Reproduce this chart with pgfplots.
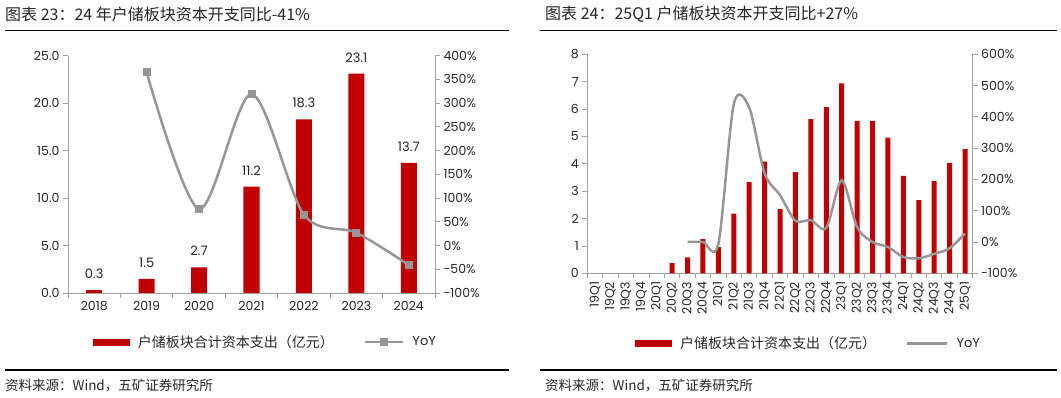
\documentclass[border=0pt]{standalone}
\usepackage{pgfplots}
\pgfplotsset{compat=1.18}
\usepackage{fontspec}
\setmainfont{Poppins}
\newfontfamily\cjk{Noto Sans CJK SC}
\definecolor{barred}{RGB}{192,0,0}
\definecolor{linegray}{RGB}{150,150,150}
\definecolor{axgray}{RGB}{160,160,160}
\definecolor{txt}{RGB}{38,38,38}
\pgfplotsset{
  base/.style={scale only axis, clip=false,
    axis line style={axgray, line width=0.8bp},
    tick style={axgray, line width=0.8bp},
    major tick length=5bp, tick align=outside,
    ticklabel style={font=\fontsize{12.5bp}{14bp}\selectfont, text=txt},
    /pgf/number format/assume math mode=true},
}
\begin{document}
\begin{tikzpicture}
\path[use as bounding box] (0bp,0bp) rectangle (1061bp,398bp);
% ---------- titles and rules ----------
\node[anchor=west, inner sep=0, text=txt, font=\cjk\fontsize{16bp}{18bp}\selectfont] at (5bp,384bp) {图表 23：24 年户储板块资本开支同比-41\%};
\draw[line width=1.5bp] (5bp,367.5bp) -- (509bp,367.5bp);
\node[anchor=west, inner sep=0, text=txt, font=\cjk\fontsize{16bp}{18bp}\selectfont] at (545bp,384bp) {图表 24：25Q1 户储板块资本开支同比+27\%};
\draw[line width=1.5bp] (540bp,367.5bp) -- (1057bp,367.5bp);
\draw[line width=1.2bp] (5bp,28bp) -- (509bp,28bp);
\draw[line width=1.2bp] (540bp,28bp) -- (1057bp,28bp);
\node[anchor=west, inner sep=0, text=txt, font=\cjk\fontsize{13.5bp}{15bp}\selectfont] at (5bp,12bp) {资料来源：Wind，五矿证券研究所};
\node[anchor=west, inner sep=0, text=txt, font=\cjk\fontsize{13.5bp}{15bp}\selectfont] at (545bp,12bp) {资料来源：Wind，五矿证券研究所};

% ---------- left chart ----------
\begin{axis}[base, at={(68bp,105bp)}, anchor=south west, width=367bp, height=237.3bp,
  xmin=-0.5, xmax=6.5, ymin=0, ymax=25,
  axis y line*=left, axis x line*=bottom,
  xtick={-0.5,0.5,...,6.5}, x tick label as interval,
  xticklabels={2018,2019,2020,2021,2022,2023,2024},
  ytick={0,5,...,25},
  yticklabel style={/pgf/number format/.cd, fixed, fixed zerofill, precision=1},
  legend columns=2,
  legend style={draw=none, fill=none, at={(0.538,-0.2065)}, anchor=center,
    font=\fontsize{13bp}{15bp}\selectfont, text=txt,
    /tikz/every odd column/.append style={column sep=6bp},
    /tikz/every even column/.append style={column sep=28bp}},
  legend cell align=left]
\addplot[ybar, bar width=16bp, fill=barred, draw=none,
  nodes near coords, nodes near coords style={font=\fontsize{13bp}{15bp}\selectfont, text=txt, yshift=8bp},
  legend image code/.code={\fill[barred] (0bp,-3.5bp) rectangle (37bp,3.5bp);}]
  coordinates {(0,0.3)(1,1.5)(2,2.7)(3,11.2)(4,18.3)(5,23.1)(6,13.7)};
\addlegendentry{{\cjk\fontsize{14bp}{15bp}\selectfont 户储板块合计资本支出（亿元）}}
\addlegendimage{legend image code/.code={\draw[linegray, line width=2.5bp] (0bp,0bp) -- (38bp,0bp); \fill[linegray] (15.5bp,-3.5bp) rectangle (22.5bp,3.5bp);}}
\addlegendentry{YoY}
\end{axis}
\begin{axis}[base, at={(68bp,105bp)}, anchor=south west, width=367bp, height=237.3bp,
  xmin=-0.5, xmax=6.5, ymin=-100, ymax=400,
  axis y line*=right, axis x line=none,
  ytick={-100,-50,...,400},
  yticklabel={\pgfmathprintnumber{\tick}\%}]
\addplot[linegray, line width=2.5bp, smooth, mark=square*, mark size=3.5bp,
  mark options={fill=linegray, draw=linegray, line width=0bp}]
  coordinates {(1,365)(2,77)(3,319)(4,65)(5,27)(6,-41)};
\end{axis}

% ---------- right chart ----------
\begin{axis}[base, at={(587.3bp,124.7bp)}, anchor=south west, width=385.4bp, height=219bp,
  xmin=-0.5, xmax=24.5, ymin=0, ymax=8,
  axis y line*=left, axis x line*=bottom,
  xtick={-0.5,0.5,...,24.5}, x tick label as interval,
  xticklabels={19Q1,19Q2,19Q3,19Q4,20Q1,20Q2,20Q3,20Q4,21Q1,21Q2,21Q3,21Q4,22Q1,22Q2,22Q3,22Q4,23Q1,23Q2,23Q3,23Q4,24Q1,24Q2,24Q3,24Q4,25Q1},
  xticklabel style={rotate=90, anchor=east},
  ytick={0,1,...,8},
  legend columns=2,
  legend style={draw=none, fill=none, at={(0.574,-0.3196)}, anchor=center,
    font=\fontsize{13bp}{15bp}\selectfont, text=txt,
    /tikz/every odd column/.append style={column sep=6bp},
    /tikz/every even column/.append style={column sep=28bp}},
  legend cell align=left]
\addplot[ybar, bar width=5bp, fill=barred, draw=none,
  legend image code/.code={\fill[barred] (0bp,-3.5bp) rectangle (37bp,3.5bp);}]
  coordinates {(5,0.37)(6,0.58)(7,1.25)(8,0.96)(9,2.18)(10,3.33)(11,4.08)(12,2.34)(13,3.70)(14,5.63)(15,6.07)(16,6.94)(17,5.57)(18,5.57)(19,4.96)(20,3.56)(21,2.67)(22,3.37)(23,4.03)(24,4.54)};
\addlegendentry{{\cjk\fontsize{14bp}{15bp}\selectfont 户储板块合计资本支出（亿元）}}
\addlegendimage{legend image code/.code={\draw[linegray, line width=2.5bp] (0bp,0bp) -- (40bp,0bp);}}
\addlegendentry{YoY}
\end{axis}
\begin{axis}[base, at={(587.3bp,124.7bp)}, anchor=south west, width=385.4bp, height=219bp,
  xmin=-0.5, xmax=24.5, ymin=-100, ymax=600,
  axis y line*=right, axis x line=none,
  ytick={-100,0,...,600},
  yticklabel={\pgfmathprintnumber{\tick}\%}]
\addplot[linegray, line width=2.5bp, smooth]
  coordinates {(6,0)(7,0)(8,-6)(9,440)(10,430)(11,220)(12,150)(13,68)(14,70)(15,45)(16,197)(17,48)(18,0)(19,-16)(20,-48)(21,-52)(22,-38)(23,-20)(24,27)};
\end{axis}
\end{tikzpicture}
\end{document}
